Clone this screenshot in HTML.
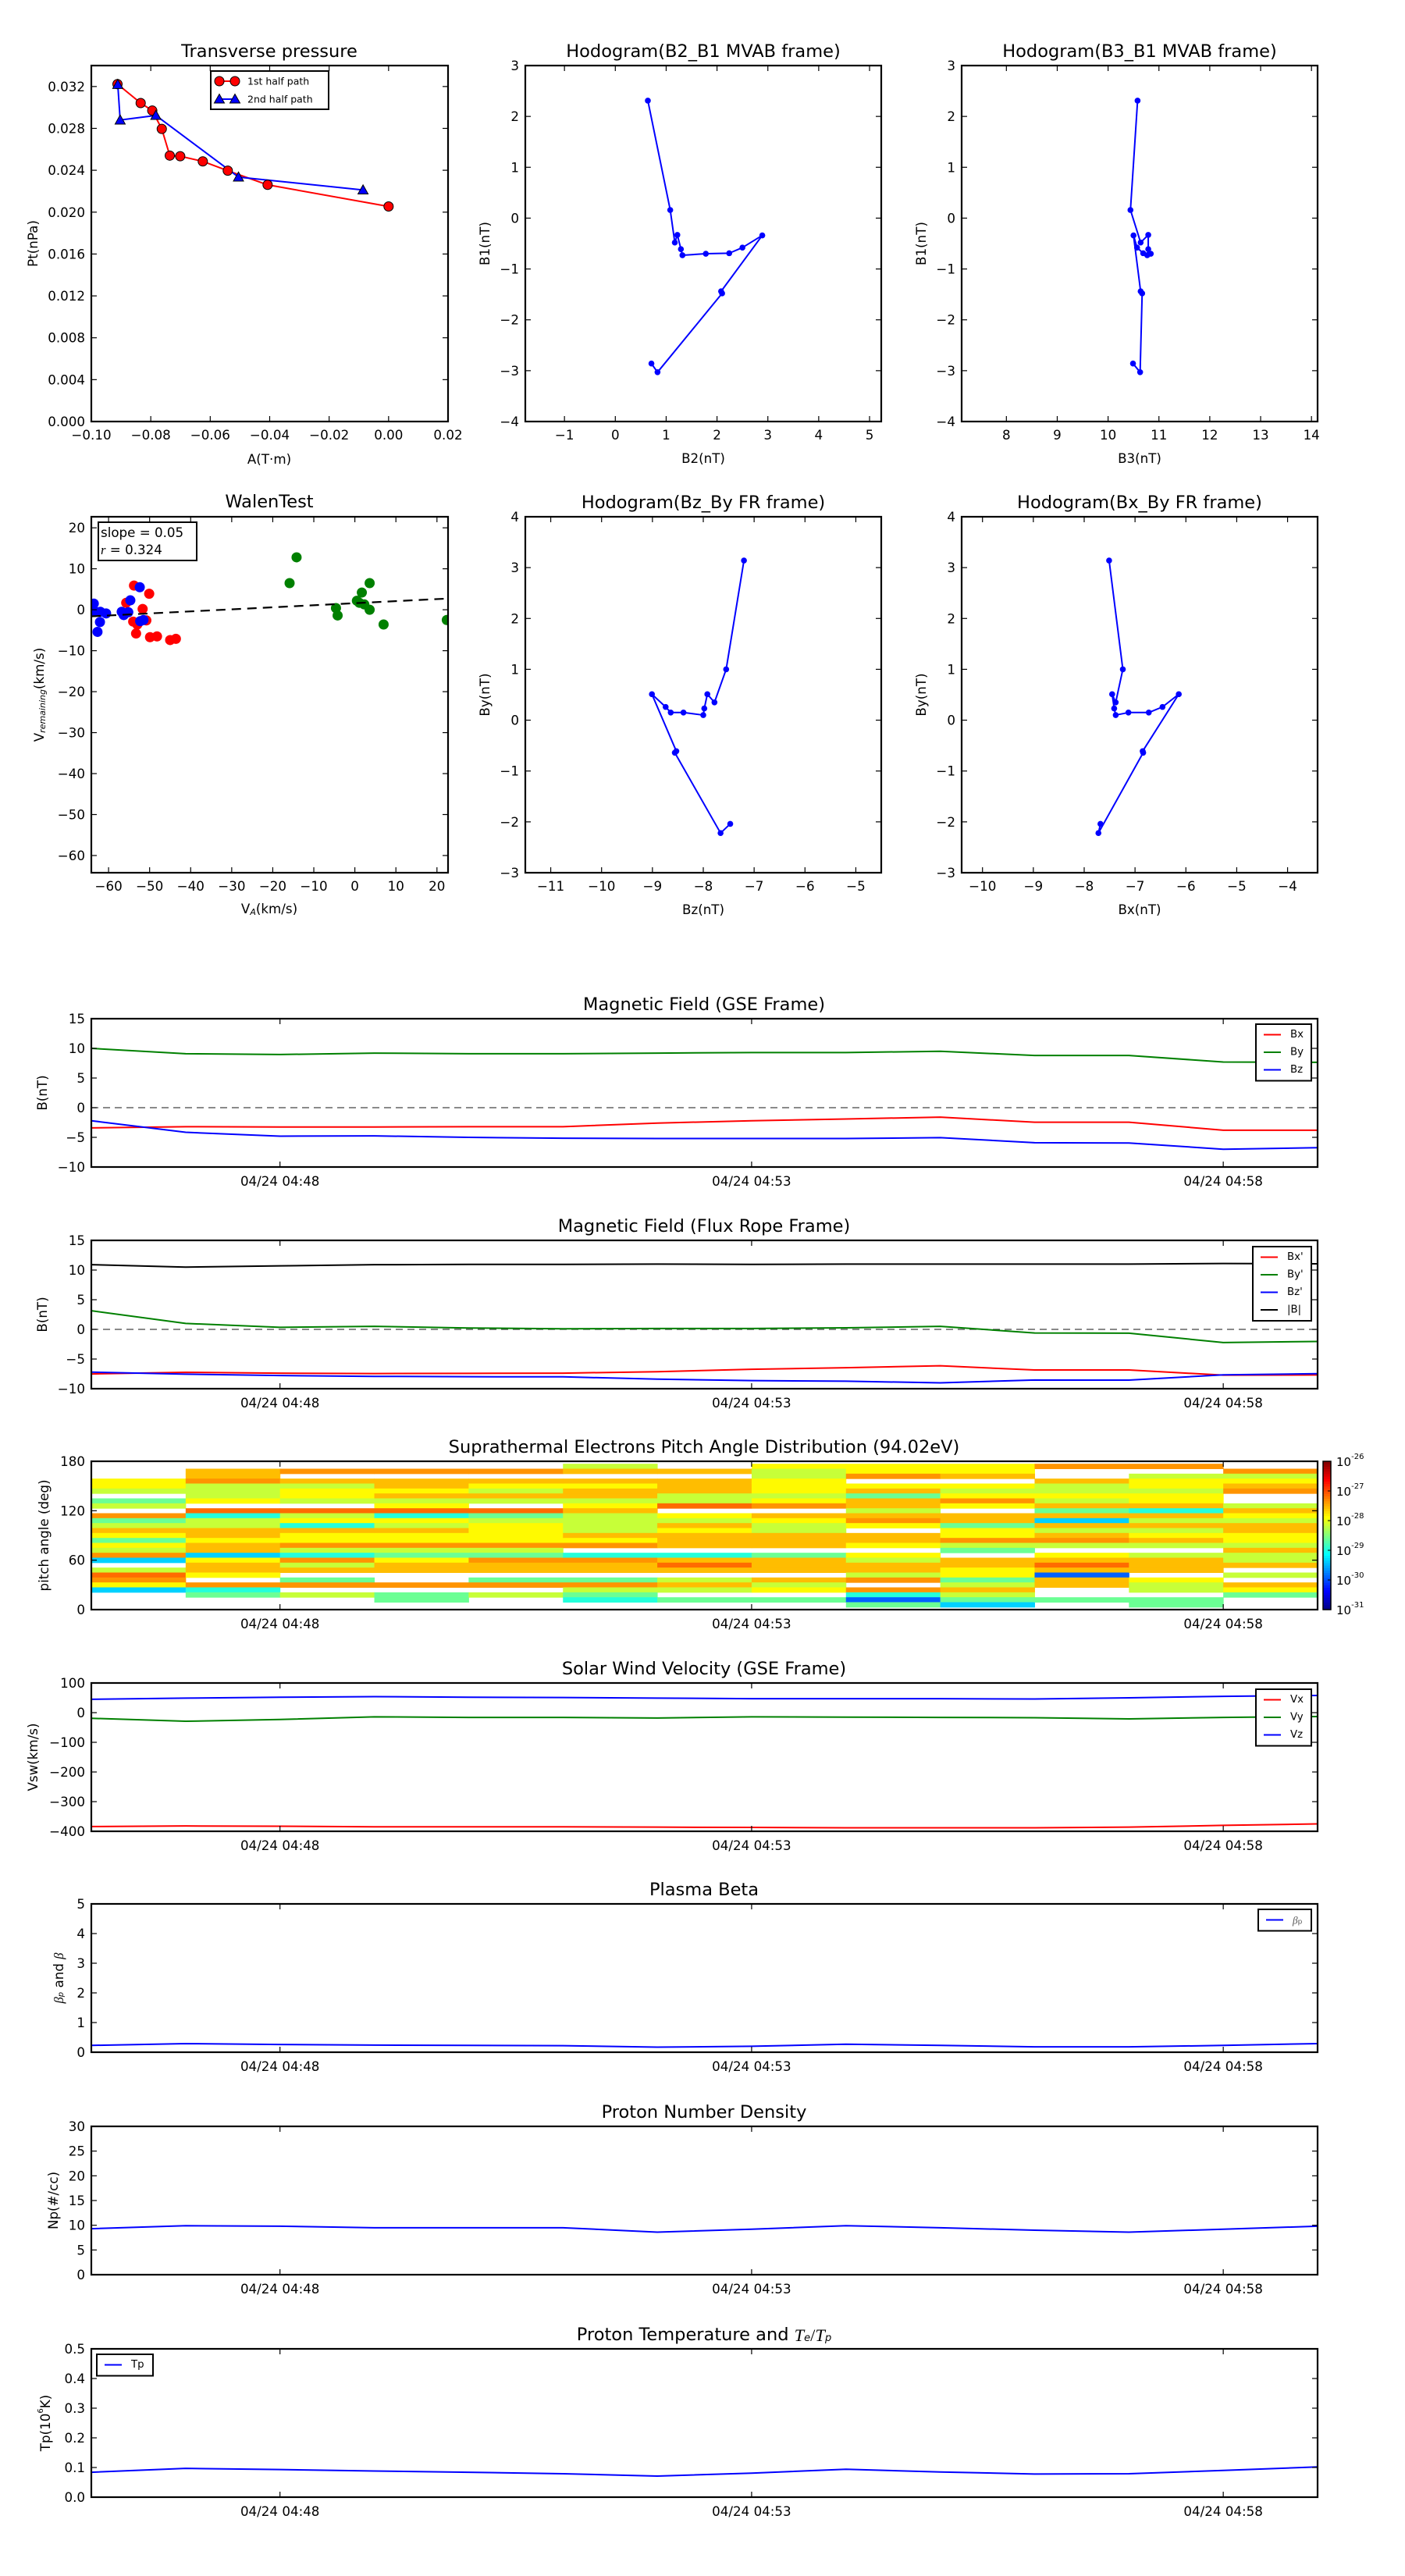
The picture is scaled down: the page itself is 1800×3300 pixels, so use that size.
<!DOCTYPE html>
<html><head><meta charset="utf-8">
<style>
html,body{margin:0;padding:0;background:#fff;}
svg{display:block;font-family:"DejaVu Sans","Liberation Sans",sans-serif;}
</style></head>
<body>
<svg id="fig" xmlns="http://www.w3.org/2000/svg" width="1800" height="3300" viewBox="0 0 1800 3300">
<rect x="0" y="0" width="1800" height="3300" fill="#fff"/>
</svg>
<script>
// ---------------- DATA ----------------
const ptA1 = [-0.0912,-0.0834,-0.0795,-0.0763,-0.0736,-0.0701,-0.0625,-0.0541,-0.0407,0.0000];
const ptP1 = [0.03223,0.03042,0.0297,0.02795,0.0254,0.02534,0.02485,0.02396,0.02261,0.02054];
const ptA2 = [-0.0911,-0.0903,-0.0783,-0.0505,-0.0086];
const ptP2 = [0.0322,0.0288,0.02924,0.02335,0.02212];

const mvB1 = [2.31,0.16,-0.48,-0.33,-0.61,-0.73,-0.70,-0.69,-0.58,-0.34,-1.44,-1.48,-3.03,-2.86];
const mvB2 = [0.64,1.08,1.17,1.22,1.29,1.32,1.78,2.24,2.50,2.89,2.08,2.10,0.83,0.71];
const mvB3 = [10.58,10.44,10.64,10.79,10.79,10.77,10.84,10.69,10.57,10.50,10.64,10.67,10.63,10.49];

const walenBlueX = [-63.6,-63.2,-62,-62.1,-62.7,-60.6,-56.8,-56.3,-55.2,-54.7,-52.4,-52.3,-51.5];
const walenBlueY = [1.5,-0.5,-0.5,-3,-5.4,-0.9,-0.5,-1.3,-0.6,2.3,5.5,-2.8,-2.5];
const walenRedX = [-53.8,-55.7,-50.1,-51.7,-54,-53,-50.8,-53.3,-49.9,-48.2,-45,-43.6];
const walenRedY = [5.9,1.7,3.9,0.2,-2.9,-3.6,-2.6,-5.8,-6.7,-6.5,-7.4,-7.1];
const walenGreenX = [-15.9,-14.2,-4.6,-4.2,0.5,1.7,1.1,2.3,3.6,3.6,7,22.4];
const walenGreenY = [6.5,12.8,0.4,-1.4,2.2,4.2,1.7,1.3,6.5,0,-3.6,-2.5];
const walenFit = [0.05, 1.6]; // slope, intercept

const times = ['04:46','04:47','04:48','04:49','04:50','04:51','04:52','04:53','04:54','04:55','04:56','04:57','04:58','04:59'];
const timeTicks = ['04:48','04:53','04:58'];

const gseBx = [-3.4,-3.2,-3.25,-3.25,-3.2,-3.2,-2.6,-2.2,-1.9,-1.6,-2.45,-2.45,-3.8,-3.8];
const gseBy = [10.0,9.1,8.96,9.2,9.1,9.1,9.2,9.3,9.3,9.5,8.8,8.8,7.7,7.65];
const gseBz = [-2.2,-4.15,-4.8,-4.75,-5.0,-5.15,-5.2,-5.2,-5.2,-5.05,-5.9,-5.95,-7.0,-6.75];

const frBx = [-7.51,-7.24,-7.38,-7.45,-7.41,-7.38,-7.13,-6.73,-6.46,-6.14,-6.85,-6.84,-7.72,-7.68];
const frBy = [3.14,1.0,0.35,0.51,0.23,0.1,0.15,0.15,0.26,0.51,-0.61,-0.64,-2.22,-2.04];
const frBz = [-7.2,-7.55,-7.78,-7.92,-7.98,-8.0,-8.39,-8.64,-8.74,-9.01,-8.53,-8.56,-7.66,-7.47];
const frBmag = [10.9,10.5,10.7,10.9,10.95,10.95,11.0,10.95,11.0,11.0,11.0,11.0,11.1,11.05];

const vx = [-384,-382,-383,-385,-385,-385,-386,-387,-388,-388,-388,-386,-380,-375];
const vy = [-19,-29,-23,-14,-16,-16,-18,-14,-15,-16,-17,-21,-16,-13];
const vz = [45,49,52,54,52,51,49,47,47,47,46,50,55,58];

const betaP = [0.23,0.29,0.26,0.24,0.23,0.22,0.17,0.2,0.27,0.23,0.18,0.18,0.23,0.29];
const npDens = [9.3,9.9,9.8,9.5,9.5,9.5,8.6,9.2,9.9,9.5,9.0,8.6,9.2,9.8];
const tpTemp = [0.084,0.097,0.093,0.088,0.084,0.079,0.071,0.081,0.094,0.085,0.078,0.079,0.09,0.102];

const pitchCenters = [174,168,162,156,150,144,138,132,126,120,114,108,102,96,90,84,78,72,66,60,54,48,42,36,30,24,18,12,6];
const pitchLog = [
 [null,null,null,-27.85,-27.85,-28.15,null,-28.6,-28.15,null,-27.35,-28.6,-28.15,-27.55,-27.85,-28.6,-27.85,-28.15,-27.35,-29.35,null,-28.15,-27.15,-27.35,-27.85,-29.35,null,null,null],
 [null,-27.55,-27.55,-27.35,-28.15,-28.15,-28.15,-27.85,null,-27.15,-28.95,-28.15,-28.15,-27.55,-27.55,-27.85,-27.55,-27.55,-29.35,-27.85,-27.55,-27.55,-27.85,null,-27.35,-28.95,-28.6,null,null],
 [null,-27.35,null,-27.55,-28.15,-27.85,-27.85,-28.15,null,-27.15,-28.15,-27.85,-28.95,-27.55,-27.85,-27.85,-27.35,-28.15,-28.95,-27.35,-28.15,-27.55,null,-28.6,-27.35,null,-28.15,null,null],
 [null,-27.35,null,-27.55,-27.55,-27.85,-27.55,-28.15,-27.85,-27.15,-28.95,-27.85,-28.15,-27.55,-27.85,-27.85,-27.35,-28.15,-28.6,-27.85,-27.55,-27.55,null,null,-27.35,null,-28.6,-28.6,null],
 [null,-27.35,null,-27.55,-27.85,-28.15,-27.55,-28.15,null,-27.15,-28.6,-28.15,-27.85,-27.85,-27.85,-27.85,-27.35,-28.15,-28.6,-27.35,-27.55,-27.55,null,-28.6,-27.35,null,-28.15,null,null],
 [-28.15,-27.55,null,-27.55,-27.85,-27.55,-27.55,-28.15,-27.85,-27.55,-28.15,-28.15,-28.15,-28.15,-27.55,-27.85,-27.35,null,-28.95,-27.35,-27.55,-27.55,null,-28.6,-27.35,-28.15,-28.6,-28.95,null],
 [null,-27.55,null,-27.55,-27.55,-27.55,-28.15,-28.15,-27.15,null,-27.85,-28.15,-27.55,-27.85,-27.55,-27.55,-27.55,null,-28.95,-27.55,-27.15,-27.55,null,-28.15,-27.55,-28.15,null,-28.6,null],
 [-27.85,-28.15,-28.15,-27.85,-27.85,-27.85,-28.15,-27.85,-27.35,null,-27.55,-27.85,-28.15,-28.15,-27.55,-27.55,-27.55,null,-28.6,-27.55,-27.55,-27.55,null,-27.55,-28.15,-27.85,null,-28.6,null],
 [-27.85,-27.85,-27.35,null,-27.85,-27.55,-28.6,-27.55,-27.55,-28.15,-27.55,-27.35,-27.85,null,-27.55,-27.55,-27.85,null,-27.85,-28.15,-27.55,-27.55,-28.15,-27.35,null,-27.35,-28.95,-29.9,-28.6],
 [-27.85,-27.85,-27.55,null,-27.85,-28.15,-27.85,-27.35,-27.85,null,-27.55,-27.55,-28.6,-27.85,-27.85,-27.35,-28.15,-28.6,null,-27.55,-27.55,-27.85,-27.85,-28.6,-28.15,-27.55,-28.15,-28.6,-29.35],
 [-27.35,null,null,-27.55,-28.15,-28.15,-27.85,-28.15,-27.55,-28.6,-27.55,-29.35,-27.55,-28.15,-27.55,-27.35,-28.15,null,-27.85,-27.55,-27.15,-27.55,-29.9,-27.55,-27.55,null,null,-28.6,null],
 [-27.35,null,-28.15,-27.85,-27.85,-28.15,-27.85,-27.85,-27.55,-28.95,-27.55,-28.15,-27.55,-28.15,-27.85,-27.55,-28.15,null,-28.15,-27.55,-27.55,-27.55,null,-27.85,-28.15,-28.15,null,-28.6,-28.6],
 [null,-27.35,-28.15,-27.85,-27.55,-27.35,null,null,-28.15,-27.55,-27.85,-28.15,-27.55,-27.55,-27.85,-27.85,-28.15,-27.55,-28.15,-28.15,-27.55,null,-28.15,null,-27.55,-27.85,-28.6,null,null]
];
const cbarExps = [-31,-30,-29,-28,-27,-26];

// ---------------- HELPERS ----------------
const NS = 'http://www.w3.org/2000/svg';
const svg = document.getElementById('fig');
function mk(tag, attrs, parent){
  const e = document.createElementNS(NS, tag);
  for (const k in attrs) e.setAttribute(k, attrs[k]);
  (parent || svg).appendChild(e);
  return e;
}
function fmtNum(v, d){
  const s = v.toFixed(d);
  return s.startsWith('-') ? '\u2212' + s.slice(1) : s;
}
function tmin(t){ const p = t.split(':'); return +p[0]*60 + +p[1]; }
let clipId = 0;

function axes(box, xr, yr, name){
  const g = mk('g', {});
  
  
  const sx = v => box.x0 + (v - xr[0]) / (xr[1] - xr[0]) * (box.x1 - box.x0);
  const sy = v => box.y1 - (v - yr[0]) / (yr[1] - yr[0]) * (box.y1 - box.y0);
  const cid = 'clip' + (clipId++);
  const cp = mk('clipPath', {id: cid}, g);
  mk('rect', {x: box.x0, y: box.y0, width: box.x1 - box.x0, height: box.y1 - box.y0}, cp);
  const data = mk('g', {'clip-path': 'url(#' + cid + ')'}, g);
  
  
  return {box, sx, sy, g, data};
}
function frame(ax){
  const b = ax.box;
  const r = mk('rect', {x: b.x0, y: b.y0, width: b.x1 - b.x0, height: b.y1 - b.y0, fill: 'none', stroke: '#000', 'stroke-width': 2.2}, ax.g);
  
  
}
function xticks(ax, vals, labels, fs, off){
  const b = ax.box;
  vals.forEach((v, i) => {
    const x = ax.sx(v);
    mk('line', {x1: x, x2: x, y1: b.y1, y2: b.y1 - 7, stroke: '#000', 'stroke-width': 1.2}, ax.g);
    mk('line', {x1: x, x2: x, y1: b.y0, y2: b.y0 + 7, stroke: '#000', 'stroke-width': 1.2}, ax.g);
    const t = mk('text', {x: x, y: b.y1 + off, 'font-size': fs, 'text-anchor': 'middle', 'dominant-baseline': 'central'}, ax.g);
    t.textContent = labels[i];
    
    
  });
}
function yticks(ax, vals, labels, fs){
  const b = ax.box;
  vals.forEach((v, i) => {
    const y = ax.sy(v);
    mk('line', {x1: b.x0, x2: b.x0 + 7, y1: y, y2: y, stroke: '#000', 'stroke-width': 1.2}, ax.g);
    mk('line', {x1: b.x1, x2: b.x1 - 7, y1: y, y2: y, stroke: '#000', 'stroke-width': 1.2}, ax.g);
    const t = mk('text', {x: b.x0 - 8, y: y, 'font-size': fs, 'text-anchor': 'end', 'dominant-baseline': 'central'}, ax.g);
    t.textContent = labels[i];
    
    
  });
}
function label(txt, x, y, fs, rot, name){
  const t = mk('text', {x: x, y: y, 'font-size': fs, 'text-anchor': 'middle', 'dominant-baseline': 'central'});
  if (rot) t.setAttribute('transform', 'rotate(-90 ' + x + ' ' + y + ')');
  t.innerHTML = txt;
  
  
  return t;
}
function polyline(ax, xs, ys, color, w, name){
  const pts = xs.map((x, i) => ax.sx(x).toFixed(2) + ',' + ax.sy(ys[i]).toFixed(2)).join(' ');
  const p = mk('polyline', {points: pts, fill: 'none', stroke: color, 'stroke-width': w, 'stroke-linejoin': 'round'}, ax.data);
  
  
  return p;
}
function dots(ax, xs, ys, color, r, name, stroke){
  xs.forEach((x, i) => {
    const c = mk('circle', {cx: ax.sx(x), cy: ax.sy(ys[i]), r: r, fill: color, stroke: stroke || 'none', 'stroke-width': 1}, ax.data);
    
    
  });
}
function tris(ax, xs, ys, color, s, name){
  xs.forEach((x, i) => {
    const cx = ax.sx(x), cy = ax.sy(ys[i]);
    const p = mk('polygon', {points: [cx, cy - s, cx - s, cy + s * 0.8, cx + s, cy + s * 0.8].join(' '), fill: color, stroke: '#000', 'stroke-width': 1}, ax.data);
    
    
  });
}
function range(a, b, s){ const r = []; for (let v = a; v <= b + 1e-9; v += s) r.push(Math.round(v * 1e6) / 1e6); return r; }

const FS = 16.7, TFS = 22.5;

// ---------------- ROW 1 ----------------
{
  const ax = axes({x0: 117, x1: 574, y0: 84, y1: 540}, [-0.1, 0.02], [0, 0.034], 'transverse-pressure-plot');
  polyline(ax, ptA1, ptP1, 'red', 2, 'first-half-line');
  polyline(ax, ptA2, ptP2, 'blue', 2, 'second-half-line');
  dots(ax, ptA1, ptP1, 'red', 6, 'first-half-marker', '#000');
  tris(ax, ptA2, ptP2, 'blue', 6.5, 'second-half-marker');
  frame(ax);
  const xv = range(-0.1, 0.02, 0.02);
  xticks(ax, xv, xv.map(v => fmtNum(v, 2)), FS, 17);
  const yv = range(0, 0.032, 0.004);
  yticks(ax, yv, yv.map(v => fmtNum(v, 3)), FS);
  label('Transverse pressure', 345, 66, TFS, false, 'transverse-pressure-title');
  label('A(T\u00b7m)', 345, 588, FS, false, 'x-axis-title');
  label('Pt(nPa)', 42, 312, FS, true, 'y-axis-title');
  const lg = mk('g', {});
  
  
  mk('rect', {x: 270, y: 91, width: 151, height: 49, fill: '#fff', stroke: '#000', 'stroke-width': 2}, lg);
  mk('line', {x1: 281, x2: 301, y1: 104, y2: 104, stroke: 'red', 'stroke-width': 2}, lg);
  mk('circle', {cx: 281, cy: 104, r: 6, fill: 'red', stroke: '#000'}, lg);
  mk('circle', {cx: 301, cy: 104, r: 6, fill: 'red', stroke: '#000'}, lg);
  const t1 = mk('text', {x: 317, y: 104, 'font-size': 12.5, 'dominant-baseline': 'central'}, lg);
  t1.textContent = '1st half path';
  
  
  mk('line', {x1: 281, x2: 301, y1: 127, y2: 127, stroke: 'blue', 'stroke-width': 2}, lg);
  mk('polygon', {points: '281,120.5 274.5,132 287.5,132', fill: 'blue', stroke: '#000'}, lg);
  mk('polygon', {points: '301,120.5 294.5,132 307.5,132', fill: 'blue', stroke: '#000'}, lg);
  const t2 = mk('text', {x: 317, y: 127, 'font-size': 12.5, 'dominant-baseline': 'central'}, lg);
  t2.textContent = '2nd half path';
  
  
}
function hodo(box, xr, yr, xs, ys, xt, yt, title, xl, yl, name){
  const ax = axes(box, xr, yr, name);
  polyline(ax, xs, ys, 'blue', 2, 'hodogram-line');
  dots(ax, xs, ys, 'blue', 3.8, 'hodogram-point');
  frame(ax);
  xticks(ax, xt, xt.map(v => fmtNum(v, 0)), FS, 17);
  yticks(ax, yt, yt.map(v => fmtNum(v, 0)), FS);
  const cx = (box.x0 + box.x1) / 2;
  label(title, cx, box.y0 - 18, TFS, false, name + '-title');
  label(xl, cx, box.y1 + 47, FS, false, 'x-axis-title');
  label(yl, box.x0 - 52, (box.y0 + box.y1) / 2, FS, true, 'y-axis-title');
}
hodo({x0: 673, x1: 1129, y0: 84, y1: 540}, [-1.77, 5.23], [-4, 3], mvB2, mvB1, range(-1, 5, 1), range(-4, 3, 1), 'Hodogram(B2_B1 MVAB frame)', 'B2(nT)', 'B1(nT)', 'hodogram-b2-b1');
hodo({x0: 1232, x1: 1688, y0: 84, y1: 540}, [7.12, 14.12], [-4, 3], mvB3, mvB1, range(8, 14, 1), range(-4, 3, 1), 'Hodogram(B3_B1 MVAB frame)', 'B3(nT)', 'B1(nT)', 'hodogram-b3-b1');

// ---------------- ROW 2 ----------------
{
  const ax = axes({x0: 117, x1: 574, y0: 662, y1: 1118}, [-64.2, 22.7], [-64.2, 22.7], 'walen-test-plot');
  dots(ax, walenRedX, walenRedY, 'red', 6.5, 'walen-red-point');
  dots(ax, walenBlueX, walenBlueY, 'blue', 6.5, 'walen-blue-point');
  dots(ax, walenGreenX, walenGreenY, 'green', 6.5, 'walen-green-point');
  const fx = [-64.2, 22.7];
  const fl = polyline(ax, fx, fx.map(x => walenFit[0] * x + walenFit[1]), '#000', 2.2, 'walen-fit-line');
  fl.setAttribute('stroke-dasharray', '12,8');
  frame(ax);
  const xv = range(-60, 20, 10);
  xticks(ax, xv, xv.map(v => fmtNum(v, 0)), FS, 17);
  yticks(ax, range(-60, 20, 10), range(-60, 20, 10).map(v => fmtNum(v, 0)), FS);
  label('WalenTest', 345, 643, TFS, false, 'walen-title');
  label('V<tspan font-style="italic" font-size="11" dy="4">A</tspan><tspan dy="-4">(km/s)</tspan>', 345, 1164, FS, false, 'x-axis-title');
  label('V<tspan font-style="italic" font-size="11" dy="4">remaining</tspan><tspan dy="-4">(km/s)</tspan>', 50, 890, FS, true, 'y-axis-title');
  const bx = mk('g', {});
  
  
  mk('rect', {x: 126, y: 669, width: 126, height: 49, fill: '#fff', stroke: '#000', 'stroke-width': 2}, bx);
  const s1 = mk('text', {x: 129, y: 682, 'font-size': FS, 'dominant-baseline': 'central'}, bx);
  s1.textContent = 'slope = ' + walenFit[0].toFixed(2);
  
  
  const s2 = mk('text', {x: 129, y: 704, 'font-size': FS, 'dominant-baseline': 'central'}, bx);
  s2.innerHTML = '<tspan font-style="italic" font-family="Liberation Serif, serif">r</tspan> = 0.324';
  
  
}
hodo({x0: 673, x1: 1129, y0: 662, y1: 1118}, [-11.5, -4.5], [-3, 4], frBz, frBy, range(-11, -5, 1), range(-3, 4, 1), 'Hodogram(Bz_By FR frame)', 'Bz(nT)', 'By(nT)', 'hodogram-bz-by');
hodo({x0: 1232, x1: 1688, y0: 662, y1: 1118}, [-10.41, -3.41], [-3, 4], frBx, frBy, range(-10, -4, 1), range(-3, 4, 1), 'Hodogram(Bx_By FR frame)', 'Bx(nT)', 'By(nT)', 'hodogram-bx-by');

// ---------------- TIME SERIES ----------------
const T0 = tmin(times[0]), T1 = tmin(times[times.length - 1]);
const tx = times.map(tmin);
function tpanel(top, yr, yt, ydec, title, ylab, ylx, name){
  const ax = axes({x0: 117, x1: 1688, y0: top, y1: top + 190}, [T0, T1], yr, name);
  ax.after = () => {
    frame(ax);
    xticks(ax, timeTicks.map(tmin), timeTicks.map(t => '04/24 ' + t), FS, 18);
    yticks(ax, yt, yt.map(v => fmtNum(v, ydec)), FS);
    label(title, 902, top - 18, TFS, false, name + '-title');
    label(ylab, ylx, top + 95, FS, true, 'y-axis-title');
  };
  return ax;
}
function legend(x, y, w, entries, name, fs){
  const lg = mk('g', {});
  
  
  const h = entries.length * 22.5 + 5;
  mk('rect', {x: x, y: y, width: w, height: h, fill: '#fff', stroke: '#000', 'stroke-width': 2}, lg);
  entries.forEach((e, i) => {
    const cy = y + 13.5 + i * 22.5;
    mk('line', {x1: x + 10, x2: x + 32, y1: cy, y2: cy, stroke: e[1], 'stroke-width': 2}, lg);
    const t = mk('text', {x: x + 44, y: cy, 'font-size': fs || 13.3, 'dominant-baseline': 'central'}, lg);
    t.innerHTML = e[0];
    
    
  });
}
function zeroLine(ax){
  const l = mk('line', {x1: ax.box.x0, x2: ax.box.x1, y1: ax.sy(0), y2: ax.sy(0), stroke: '#444', 'stroke-width': 1.3, 'stroke-dasharray': '9,6'}, ax.data);
  
  
}
{
  const ax = tpanel(1305, [-10, 15], range(-10, 15, 5), 0, 'Magnetic Field (GSE Frame)', 'B(nT)', 54, 'gse-field-panel');
  zeroLine(ax);
  polyline(ax, tx, gseBy, 'green', 2, 'by-line');
  polyline(ax, tx, gseBx, 'red', 2, 'bx-line');
  polyline(ax, tx, gseBz, 'blue', 2, 'bz-line');
  ax.after();
  legend(1609, 1312, 71, [['Bx', 'red'], ['By', 'green'], ['Bz', 'blue']], 'gse-legend');
}
{
  const ax = tpanel(1589, [-10, 15], range(-10, 15, 5), 0, 'Magnetic Field (Flux Rope Frame)', 'B(nT)', 54, 'fr-field-panel');
  zeroLine(ax);
  polyline(ax, tx, frBmag, '#000', 2, 'bmag-line');
  polyline(ax, tx, frBy, 'green', 2, 'by-prime-line');
  polyline(ax, tx, frBx, 'red', 2, 'bx-prime-line');
  polyline(ax, tx, frBz, 'blue', 2, 'bz-prime-line');
  ax.after();
  legend(1605, 1597, 75, [["Bx'", 'red'], ["By'", 'green'], ["Bz'", 'blue'], ['|B|', '#000']], 'fr-legend');
}
function jet(v){
  const t = Math.max(0, Math.min(1, v));
  const c = x => Math.max(0, Math.min(1, x));
  const r = c(Math.min(4 * t - 1.5, -4 * t + 4.5));
  const g = c(Math.min(4 * t - 0.5, -4 * t + 3.5));
  const b = c(Math.min(4 * t + 0.5, -4 * t + 2.5));
  return 'rgb(' + Math.round(r * 255) + ',' + Math.round(g * 255) + ',' + Math.round(b * 255) + ')';
}
{
  const ax = tpanel(1872, [0, 180], [0, 60, 120, 180], 0, 'Suprathermal Electrons Pitch Angle Distribution (94.02eV)', 'pitch angle (deg)', 56, 'pitch-angle-panel');
  pitchLog.forEach((col, ci) => {
    const xa = ax.sx(tx[ci]), xb = ax.sx(tx[ci + 1]);
    col.forEach((v, ri) => {
      if (v === null) return;
      const ya = ax.sy(pitchCenters[ri] + 3), yb = ax.sy(pitchCenters[ri] - 3);
      const r = mk('rect', {x: xa, y: ya, width: xb - xa + 0.5, height: yb - ya + 0.5, fill: jet((v + 31) / 5)}, ax.data);
      
      
    });
  });
  ax.after();
  const cb = mk('g', {});
  
  
  const cy0 = 1872, cy1 = 2062, n = 60;
  for (let i = 0; i < n; i++) {
    mk('rect', {x: 1695, y: cy1 - (i + 1) * (cy1 - cy0) / n, width: 10, height: (cy1 - cy0) / n + 0.6, fill: jet((i + 0.5) / n)}, cb);
  }
  mk('rect', {x: 1695, y: cy0, width: 10, height: cy1 - cy0, fill: 'none', stroke: '#000', 'stroke-width': 1.5}, cb);
  cbarExps.forEach((e, i) => {
    const y = cy1 - i * (cy1 - cy0) / (cbarExps.length - 1);
    mk('line', {x1: 1701, x2: 1705, y1: y, y2: y, stroke: '#000', 'stroke-width': 1}, cb);
    const t = mk('text', {x: 1712, y: y + 6, 'font-size': 15}, cb);
    t.innerHTML = '10<tspan font-size="10" dy="-9">' + fmtNum(e, 0).replace('\u2212', '-') + '</tspan>';
    
    
  });
}
{
  const ax = tpanel(2156, [-400, 100], range(-400, 100, 100), 0, 'Solar Wind Velocity (GSE Frame)', 'Vsw(km/s)', 42, 'velocity-panel');
  polyline(ax, tx, vx, 'red', 2, 'vx-line');
  polyline(ax, tx, vy, 'green', 2, 'vy-line');
  polyline(ax, tx, vz, 'blue', 2, 'vz-line');
  ax.after();
  legend(1609, 2164, 71, [['Vx', 'red'], ['Vy', 'green'], ['Vz', 'blue']], 'velocity-legend');
}
{
  const ax = tpanel(2439, [0, 5], range(0, 5, 1), 0, 'Plasma Beta', '<tspan font-style="italic" font-family="Liberation Serif, serif">\u03b2</tspan><tspan font-size="10" dy="3" font-style="italic">p</tspan><tspan dy="-3"> and </tspan><tspan font-style="italic" font-family="Liberation Serif, serif">\u03b2</tspan>', 75, 'beta-panel');
  polyline(ax, tx, betaP, 'blue', 2, 'beta-p-line');
  ax.after();
  legend(1612, 2446, 68, [['<tspan font-style="italic" font-family="Liberation Serif, serif" fill="#555">\u03b2</tspan><tspan font-size="9" dy="3" fill="#555">p</tspan>', 'blue']], 'beta-legend');
}
{
  const ax = tpanel(2724, [0, 30], range(0, 30, 5), 0, 'Proton Number Density', 'Np(#/cc)', 68, 'density-panel');
  polyline(ax, tx, npDens, 'blue', 2, 'np-line');
  ax.after();
}
{
  const ax = tpanel(3009, [0, 0.5], range(0, 0.5, 0.1), 1, 'Proton Temperature and <tspan font-style="italic" font-family="Liberation Serif, serif">T</tspan><tspan font-size="13" dy="4" font-style="italic">e</tspan><tspan dy="-4" font-family="Liberation Serif, serif">/</tspan><tspan font-style="italic" font-family="Liberation Serif, serif">T</tspan><tspan font-size="13" dy="4" font-style="italic">p</tspan>', 'Tp(10<tspan font-size="10" dy="-6">6</tspan><tspan dy="6">K)</tspan>', 58, 'temperature-panel');
  polyline(ax, tx, tpTemp, 'blue', 2, 'tp-line');
  ax.after();
  legend(124, 3016, 72, [['Tp', 'blue']], 'temperature-legend');
}
</script>
</body></html>
